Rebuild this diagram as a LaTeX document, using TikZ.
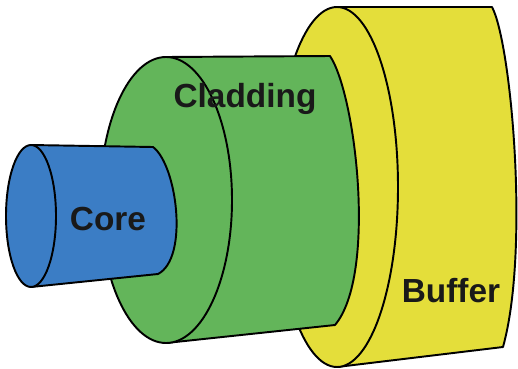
\documentclass[tikz,border=0pt]{standalone}
\usepackage{fontspec}
\newfontfamily\labelfont{Liberation Sans}
\usepackage{xcolor}
\usepackage{tikz}
\usetikzlibrary{positioning}

\definecolor{coreblue}{RGB}{59,125,197}
\definecolor{cladgreen}{RGB}{99,181,90}
\definecolor{bufyellow}{RGB}{228,222,58}

\tikzset{
  layer/.style={draw=black, line width=1.1pt, line join=round},
  tag/.style={font=\labelfont\bfseries\fontsize{19}{21}\selectfont, text=black!90}
}

\begin{document}
\begin{tikzpicture}[x=0.02cm, y=-0.02cm]
\useasboundingbox (0,0) rectangle (518,369);
% buffer (back layer)
\draw[layer, fill=bufyellow] (337,7) -- (492,7) .. controls (511,42) and (530,250) .. (503,347) -- (337,367) -- cycle;
\draw[layer, fill=bufyellow] (337,187) ellipse [x radius=61, y radius=180];
% cladding
\draw[layer, fill=cladgreen] (166,57) -- (330,56) .. controls (356,95) and (377,275) .. (335,325) -- (166,343) -- cycle;
\draw[layer, fill=cladgreen] (166,200) ellipse [x radius=66, y radius=143];
% core (front)
\draw[layer, fill=coreblue] (31,145) -- (153,147) .. controls (177,165) and (189,258) .. (158,274) -- (31,287) -- cycle;
\draw[layer, fill=coreblue] (31,216) ellipse [x radius=25, y radius=71];
% labels
\node[tag] (core) at (108,219) {Core};
\node[tag] (cladding) at (245,99) {Cladding};
\node[tag] (buffer) at (451,291) {Buffer};
\end{tikzpicture}
\end{document}
